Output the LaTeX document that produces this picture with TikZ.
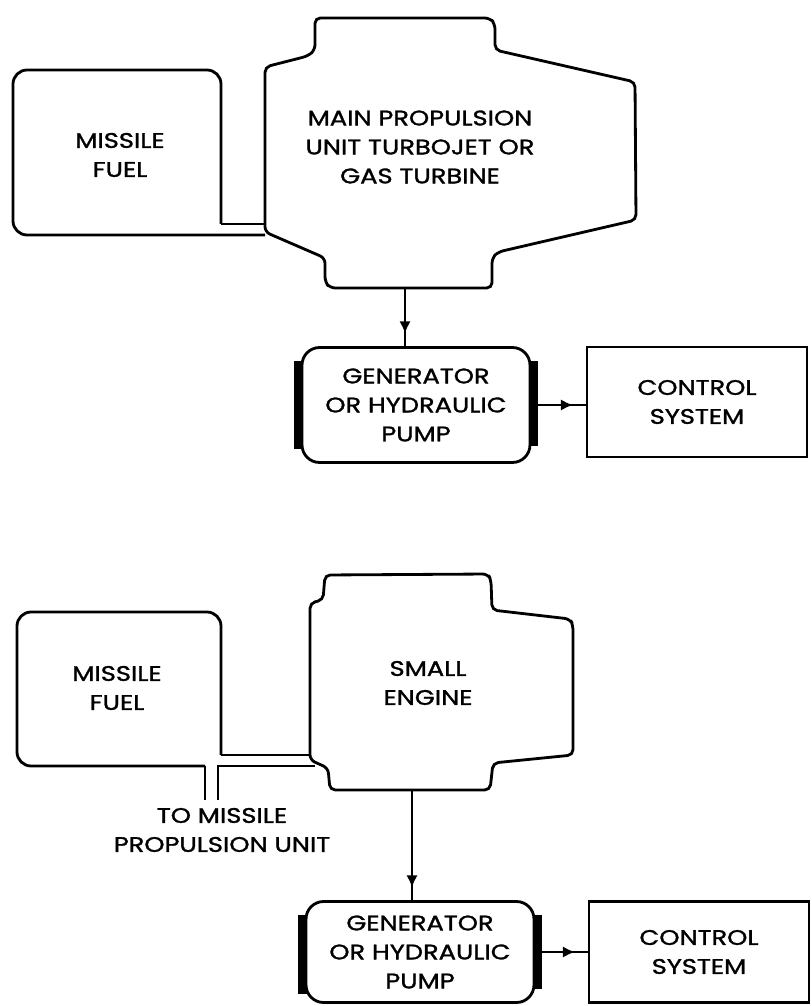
\documentclass[tikz,border=0pt]{standalone}
\usepackage{fontspec}
\setmainfont{Poppins}[FakeStretch=1.22, FakeBold=1.4]
\usepackage{tikz}
\usetikzlibrary{arrows.meta, positioning, calc, decorations.markings}

\begin{document}
\begin{tikzpicture}[x=0.02cm, y=-0.02cm,
  outline/.style={line width=1.6pt, rounded corners=3pt},
  tank/.style={line width=1.6pt, rounded corners=8pt},
  pipe/.style={line width=1.6pt},
  txt/.style={align=center, font=\fontsize{12}{16.5}\selectfont},
  gen/.style={rectangle, draw, line width=1.6pt, rounded corners=10pt,
              minimum width=4.56cm, minimum height=#1, txt},
  ctrl/.style={rectangle, draw, line width=1.6pt,
               minimum width=4.4cm, minimum height=#1, txt},
  bar/.style={line width=5pt},
  flow/.style={line width=1.6pt, postaction={decorate},
               decoration={markings, mark=at position -0.25cm with {\arrow{Latex[length=7pt,width=6.5pt]}}}}
]
\useasboundingbox (0,0) rectangle (811,1006);

% turbojet driven system
\draw[tank] (221,224) |- (13,70) |- (265,235);
\draw[pipe] (221,224) -- (265,224);
\node[txt] (fuel1) at (120,155) {MISSILE\\FUEL};

\draw[outline] (265,232) -- (265,67) -- (308,56) -- (315,50) -- (315,18) -- (490,18)
  -- (495,24) -- (495,50) -- (635,82) -- (636,220) -- (498,252) -- (492,258)
  -- (492,288) -- (330,288) -- (325,282) -- (325,258) -- cycle;
\node[txt] (eng1) at (420,147) {MAIN PROPULSION\\UNIT TURBOJET OR\\GAS TURBINE};
\coordinate (eng1out) at (405,288);

\node[gen=2.3cm] (gen1) at (416,405) {GENERATOR\\OR HYDRAULIC\\PUMP};
\draw[bar] ($(gen1.north west)+(-2,15)$) -- ($(gen1.south west)+(-2,-15)$);
\draw[bar] ($(gen1.north east)+(2,15)$) -- ($(gen1.south east)+(2,-18)$);
\node[ctrl=2.2cm] (ctrl1) at (697,402) {CONTROL\\SYSTEM};

\draw[flow] (eng1out) -- (eng1out |- gen1.north);
\draw[flow] (gen1.east) -- (gen1.east -| ctrl1.west);

% small engine driven system
\draw[tank] (221,755) |- (17,612) |- (205,766);
\draw[pipe] (205,766) -- (205,800);
\draw[pipe] (218,800) |- (315,766);
\draw[pipe] (221,755) -- (310,755);
\node[txt] (fuel2) at (117,688) {MISSILE\\FUEL};
\node[txt] (tounit) at (222,830) {TO MISSILE\\PROPULSION UNIT};

\draw[outline] (310,760) -- (310,603) -- (323,600) -- (325,575) -- (488,574)
  -- (491,580) -- (492,610) -- (570,619) -- (573,625) -- (573,755) -- (493,763)
  -- (490,790) -- (330,790) -- (328,768) -- cycle;
\node[txt] (eng2) at (428,683) {SMALL\\ENGINE};
\coordinate (eng2out) at (412,790);

\node[gen=2.02cm] (gen2) at (420,952) {GENERATOR\\OR HYDRAULIC\\PUMP};
\draw[bar] ($(gen2.north west)+(-2,15)$) -- ($(gen2.south west)+(-2,-10)$);
\draw[bar] ($(gen2.north east)+(2,15)$) -- ($(gen2.south east)+(2,-15)$);
\node[ctrl=2.02cm] (ctrl2) at (699,952) {CONTROL\\SYSTEM};

\draw[flow] (eng2out) -- (eng2out |- gen2.north);
\draw[flow] (gen2.east) -- (gen2.east -| ctrl2.west);
\end{tikzpicture}
\end{document}
